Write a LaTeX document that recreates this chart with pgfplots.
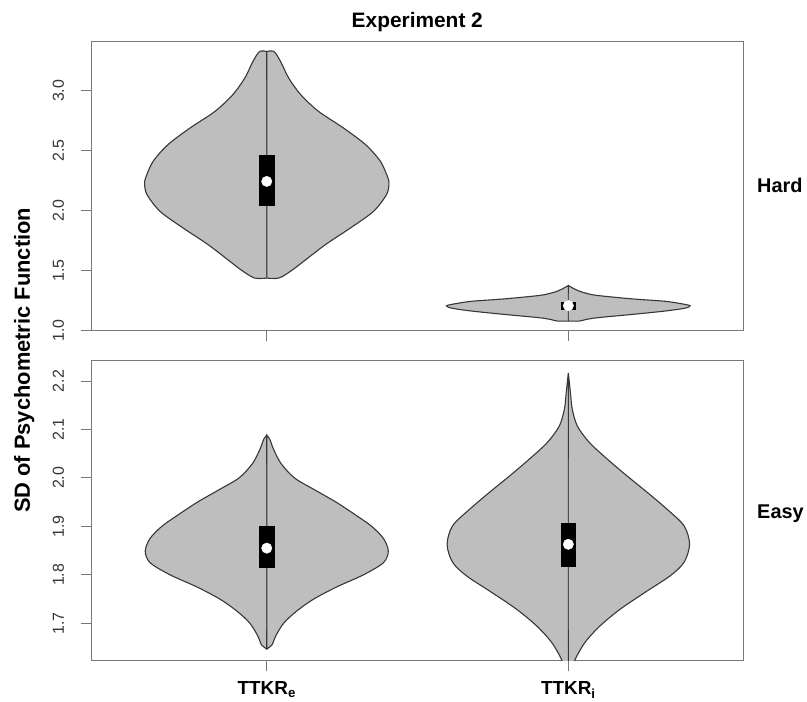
\documentclass[border=0pt]{standalone}
\usepackage{pgfplots}
\pgfplotsset{compat=1.18}
\usepackage{pgfplotstable}
\usepgfplotslibrary{fillbetween}
\usepackage{fontspec}
\setmainfont{Liberation Sans}

\definecolor{vfill}{RGB}{190,190,190}
\definecolor{vedge}{RGB}{55,55,55}
\definecolor{frame}{RGB}{120,120,120}
\definecolor{whisk}{RGB}{80,80,80}

% Violin outlines: half-width w (x units) at each value y
\pgfplotstableread{
y w
1.437 0
1.437 0.040
1.494 0.079
1.578 0.123
1.717 0.195
1.856 0.278
1.994 0.354
2.133 0.397
2.217 0.405
2.272 0.402
2.411 0.377
2.550 0.328
2.689 0.255
2.828 0.172
2.967 0.113
3.106 0.073
3.244 0.046
3.328 0.024
3.328 0
}\hardE

\pgfplotstableread{
y w
1.078 0
1.078 0.036
1.092 0.060
1.106 0.096
1.133 0.209
1.161 0.318
1.185 0.385
1.206 0.404
1.225 0.370
1.244 0.318
1.264 0.209
1.292 0.096
1.310 0.060
1.328 0.036
1.356 0.013
1.375 0
}\hardI

\pgfplotstableread{
y w
1.647 0
1.655 0.017
1.674 0.030
1.700 0.056
1.725 0.099
1.750 0.156
1.775 0.232
1.800 0.321
1.825 0.387
1.849 0.403
1.875 0.387
1.900 0.348
1.925 0.291
1.950 0.230
1.975 0.160
2.000 0.092
2.030 0.047
2.060 0.022
2.080 0.010
2.088 0
}\easyE

\pgfplotstableread{
y w
1.600 0
1.605 0.013
1.626 0.023
1.661 0.056
1.695 0.106
1.729 0.172
1.764 0.255
1.798 0.338
1.826 0.384
1.863 0.402
1.901 0.384
1.935 0.328
1.970 0.262
2.004 0.195
2.039 0.129
2.073 0.070
2.107 0.030
2.142 0.013
2.176 0.007
2.217 0
}\easyI

\pgfplotsset{
  vaxis/.style={
    scale only axis, width=652.5bp,
    xmin=0.42, xmax=2.58, xtick={1,2},
    tick align=outside, major tick length=11bp,
    xtick pos=bottom, ytick pos=left,
    axis line style={frame, line width=1.1bp},
    every tick/.style={frame, line width=1.1bp},
    tick label style={font=\fontsize{16}{18}\selectfont, text=black!80},
    yticklabel style={rotate=90, anchor=base},
    yticklabel shift=17bp,
    /pgf/number format/assume math mode=true,
    /pgf/number format/fixed,
    /pgf/number format/fixed zerofill,
    /pgf/number format/precision=1,
  },
  violin/.style={fill=vfill, draw=vedge, line width=1.1bp},
  whisker/.style={whisk, line width=1.2bp},
  medianmark/.style={only marks, mark=*, mark size=5.2bp,
    mark options={fill=white, draw=white}},
}

\begin{document}
\begin{tikzpicture}

% Hard condition
\begin{axis}[vaxis, at={(92bp,371bp)}, anchor=south west,
  height=289.5bp, ymin=1.0, ymax=3.4125,
  ytick={1.0,1.5,2.0,2.5,3.0}, xticklabels={}]
  \addplot[draw=none, smooth, name path=hEr] table[x expr=1+\thisrow{w}, y=y]{\hardE};
  \addplot[draw=none, smooth, name path=hEl] table[x expr=1-\thisrow{w}, y=y]{\hardE};
  \addplot[violin] fill between[of=hEr and hEl];
  \addplot[draw=none, smooth, name path=hIr] table[x expr=2+\thisrow{w}, y=y]{\hardI};
  \addplot[draw=none, smooth, name path=hIl] table[x expr=2-\thisrow{w}, y=y]{\hardI};
  \addplot[violin] fill between[of=hIr and hIl];
  % whiskers, boxes and medians
  \addplot[whisker] coordinates {(1,1.437) (1,3.092)};
  \addplot[fill=black, draw=none] coordinates {(0.974,2.036) (1.026,2.036) (1.026,2.467) (0.974,2.467)};
  \addplot[medianmark] coordinates {(1,2.244)};
  \addplot[whisker] coordinates {(2,1.092) (2,1.314)};
  \addplot[fill=black, draw=none] coordinates {(1.975,1.169) (2.025,1.169) (2.025,1.239) (1.975,1.239)};
  \addplot[medianmark] coordinates {(2,1.207)};
\end{axis}

% Easy condition
\begin{axis}[vaxis, at={(92bp,40.5bp)}, anchor=south west,
  height=300.5bp, ymin=1.6233, ymax=2.2427,
  ytick={1.7,1.8,1.9,2.0,2.1,2.2},
  xticklabels={\textbf{TTKR}\textsubscript{\textbf{e}},\textbf{TTKR}\textsubscript{\textbf{i}}},
  xticklabel style={font=\fontsize{19}{21}\selectfont, text=black, anchor=base, yshift=-23.5bp}]
  \addplot[draw=none, smooth, name path=eEr] table[x expr=1+\thisrow{w}, y=y]{\easyE};
  \addplot[draw=none, smooth, name path=eEl] table[x expr=1-\thisrow{w}, y=y]{\easyE};
  \addplot[violin] fill between[of=eEr and eEl];
  \addplot[draw=none, smooth, name path=eIr] table[x expr=2+\thisrow{w}, y=y]{\easyI};
  \addplot[draw=none, smooth, name path=eIl] table[x expr=2-\thisrow{w}, y=y]{\easyI};
  \addplot[violin] fill between[of=eIr and eIl];
  \addplot[whisker] coordinates {(1,1.685) (1,2.030)};
  \addplot[fill=black, draw=none] coordinates {(0.974,1.813) (1.026,1.813) (1.026,1.900) (0.974,1.900)};
  \addplot[medianmark] coordinates {(1,1.855)};
  \addplot[whisker] coordinates {(2,1.685) (2,2.039)};
  \addplot[fill=black, draw=none] coordinates {(1.975,1.817) (2.025,1.817) (2.025,1.907) (1.975,1.907)};
  \addplot[medianmark] coordinates {(2,1.863)};
\end{axis}

% titles and labels
\node[anchor=base, font=\fontsize{21}{24}\selectfont\bfseries] at (418bp,674.7bp) {Experiment 2};
\node[anchor=base, rotate=90, font=\fontsize{22}{25}\selectfont\bfseries] at (30bp,341bp) {SD of Psychometric Function};
\node[anchor=base west, font=\fontsize{20}{23}\selectfont\bfseries] at (755bp,508.7bp) {Hard};
\node[anchor=base west, font=\fontsize{20}{23}\selectfont\bfseries] at (755bp,183bp) {Easy};
% page extent
\path (0,0) rectangle (807bp,702bp);
\end{tikzpicture}
\end{document}
